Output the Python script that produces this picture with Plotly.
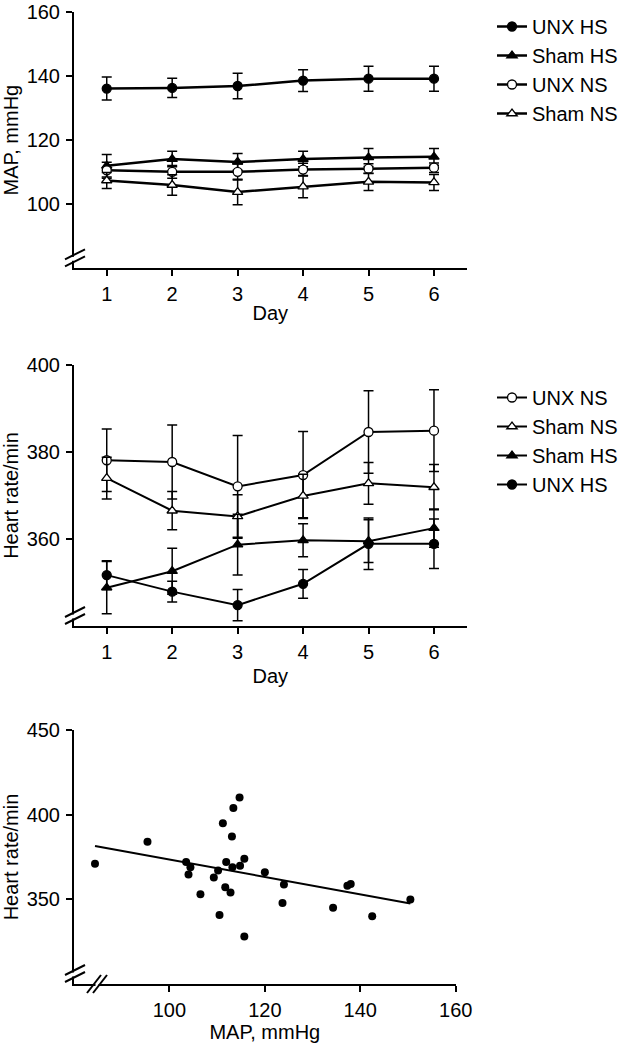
import numpy as np
import plotly.graph_objects as go

# ---------------- data ----------------
days = [1, 2, 3, 4, 5, 6]

# Panel A: MAP, mmHg
map_unx_hs = [136.1, 136.3, 136.9, 138.6, 139.2, 139.2]
map_unx_hs_err = [3.6, 3.0, 4.0, 3.4, 3.9, 3.9]
map_sham_hs = [112.0, 114.1, 113.2, 114.1, 114.6, 114.8]
map_sham_hs_err = [3.5, 2.4, 2.6, 2.4, 2.8, 2.6]
map_unx_ns = [110.6, 110.1, 110.1, 110.8, 111.1, 111.4]
map_unx_ns_err = [2.5, 2.0, 2.5, 2.0, 1.5, 1.5]
map_sham_ns = [107.4, 106.0, 103.8, 105.5, 107.0, 106.8]
map_sham_ns_err = [2.5, 3.2, 4.0, 3.5, 2.7, 2.5]

# Panel B: Heart rate/min
hr_unx_ns = [378.1, 377.7, 372.1, 374.7, 384.6, 384.9]
hr_unx_ns_err = [7.2, 8.5, 11.7, 10.0, 9.5, 9.4]
hr_sham_ns = [374.0, 366.5, 365.2, 369.9, 372.8, 371.9]
hr_sham_ns_err = [4.8, 4.4, 5.0, 5.0, 4.8, 5.2]
hr_sham_hs = [348.8, 352.6, 358.7, 359.7, 359.5, 362.5]
hr_sham_hs_err = [6.0, 5.3, 7.0, 3.8, 4.9, 4.4]
hr_unx_hs = [351.7, 347.9, 344.8, 349.7, 358.9, 358.9]
hr_unx_hs_err = [3.3, 2.4, 3.6, 3.3, 5.9, 5.7]

# Panel C: scatter MAP vs heart rate
sc_map = [84.4, 95.4, 103.5, 104.4, 104.0, 106.5, 109.3, 110.2, 110.5, 111.2,
          111.9, 113.2, 111.7, 112.8, 113.1, 113.4, 114.7, 114.8, 115.7, 115.7,
          120.0, 124.0, 123.7, 134.3, 137.3, 138.0, 142.5, 150.5]
sc_hr = [371.0, 384.0, 372.0, 369.0, 364.7, 353.0, 362.9, 367.0, 340.8, 395.0,
         372.0, 369.0, 357.2, 354.0, 387.1, 404.0, 410.1, 369.8, 374.0, 328.0,
         366.0, 358.8, 347.9, 345.0, 358.0, 359.0, 340.0, 349.9]

map_ticks = [100, 120, 140, 160]
hr_ticks = [360, 380, 400]
sc_yticks = [350, 400, 450]
sc_xticks = [100, 120, 140, 160]
day_ticks = [1, 2, 3, 4, 5, 6]

# ---------------- styling ----------------
W, H = 627, 1045
FONT = "Liberation Sans, Arial, sans-serif"


def fx(p):
    return p / W


def fy(p):
    return 1 - p / H


fig = go.Figure()

styles = {
    "UNX HS": dict(symbol="circle", color="black", size=9),
    "Sham HS": dict(symbol="triangle-up", color="black", size=9),
    "UNX NS": dict(symbol="circle", color="white", size=9),
    "Sham NS": dict(symbol="triangle-up", color="white", size=9),
}


def add_series(name, y, err, xa, ya, legend, lw):
    st = styles[name]
    fig.add_trace(go.Scatter(
        x=days, y=y, name=name, mode="lines+markers",
        xaxis=xa, yaxis=ya, legend=legend,
        line=dict(color="black", width=lw),
        marker=dict(symbol=st["symbol"], size=st["size"], color=st["color"],
                    line=dict(color="black", width=1.3)),
        error_y=dict(type="data", array=err, visible=True, color="black",
                     thickness=1.5, width=5),
        cliponaxis=False,
    ))


# Panel A
add_series("UNX HS", map_unx_hs, map_unx_hs_err, "x", "y", "legend", 2.5)
add_series("Sham HS", map_sham_hs, map_sham_hs_err, "x", "y", "legend", 2.5)
add_series("UNX NS", map_unx_ns, map_unx_ns_err, "x", "y", "legend", 2.5)
add_series("Sham NS", map_sham_ns, map_sham_ns_err, "x", "y", "legend", 2.5)

# Panel B
add_series("UNX NS", hr_unx_ns, hr_unx_ns_err, "x2", "y2", "legend2", 2)
add_series("Sham NS", hr_sham_ns, hr_sham_ns_err, "x2", "y2", "legend2", 2)
add_series("Sham HS", hr_sham_hs, hr_sham_hs_err, "x2", "y2", "legend2", 2)
add_series("UNX HS", hr_unx_hs, hr_unx_hs_err, "x2", "y2", "legend2", 2)

# Panel C
fig.add_trace(go.Scatter(
    x=sc_map, y=sc_hr, mode="markers", xaxis="x3", yaxis="y3", showlegend=False,
    marker=dict(size=8, color="black"), cliponaxis=False,
))
slope, intercept = np.polyfit(sc_map, sc_hr, 1)
fit_x = [min(sc_map), max(sc_map)]
fit_y = [slope * v + intercept for v in fit_x]
fig.add_trace(go.Scatter(
    x=fit_x, y=fit_y, mode="lines", xaxis="x3", yaxis="y3", showlegend=False,
    line=dict(color="black", width=2),
))

axis_common = dict(
    showline=True, linecolor="black", linewidth=2, ticks="outside",
    ticklen=6, tickwidth=1.8, tickcolor="black", showgrid=False,
    zeroline=False, automargin=False, ticklabeloverflow="allow",
    tickfont=dict(size=20, color="black", family=FONT),
    title_font=dict(size=20, color="black", family=FONT),
)
xcommon = dict(axis_common, ticklabelstandoff=1)
ycommon = dict(axis_common, ticklabelstandoff=2)

fig.update_layout(
    width=W, height=H,
    margin=dict(l=0, r=0, t=0, b=0, autoexpand=False),
    paper_bgcolor="white", plot_bgcolor="white",
    font=dict(family=FONT, size=20, color="black"),
    xaxis=dict(domain=[fx(74), fx(466.7)], anchor="y", range=[0.5, 6.5],
               tickvals=day_ticks, title=dict(text="Day", standoff=2),
               **xcommon),
    yaxis=dict(domain=[fy(268.3), fy(12)], anchor="x", range=[80, 160],
               tickvals=map_ticks, title=dict(text="MAP, mmHg", standoff=6),
               **ycommon),
    xaxis2=dict(domain=[fx(74), fx(466.7)], anchor="y2", range=[0.5, 6.5],
                tickvals=day_ticks, title=dict(text="Day", standoff=7),
                **xcommon),
    yaxis2=dict(domain=[fy(626), fy(365)], anchor="x2", range=[340, 400],
                tickvals=hr_ticks, title=dict(text="Heart rate/min", standoff=6),
                **ycommon),
    xaxis3=dict(domain=[fx(74), fx(455.7)], anchor="y3", range=[80, 160],
                tickvals=sc_xticks, title=dict(text="MAP, mmHg", standoff=4),
                **xcommon),
    yaxis3=dict(domain=[fy(984), fy(730)], anchor="x3", range=[300, 450],
                tickvals=sc_yticks, title=dict(text="Heart rate/min", standoff=6),
                **ycommon),
    legend=dict(x=fx(492), y=fy(7), xanchor="left", yanchor="top",
                font=dict(size=20, family=FONT, color="black"),
                bgcolor="rgba(0,0,0,0)", traceorder="normal"),
    legend2=dict(x=fx(492), y=fy(378), xanchor="left", yanchor="top",
                 font=dict(size=20, family=FONT, color="black"),
                 bgcolor="rgba(0,0,0,0)", traceorder="normal"),
)

shapes = []


def ybreak(xr, yr):
    base = dict(type="line", xref=xr + " domain", yref=yr + " domain",
                xsizemode="pixel", ysizemode="pixel", xanchor=0, yanchor=0,
                layer="above")
    shapes.append(dict(base, x0=0, x1=0, y0=7.5, y1=11.5,
                       line=dict(color="white", width=5)))
    shapes.append(dict(base, x0=-9, y0=2, x1=11, y1=12,
                       line=dict(color="black", width=2)))
    shapes.append(dict(base, x0=-9, y0=9, x1=11, y1=19,
                       line=dict(color="black", width=2)))


def xbreak(xr, yr, off):
    base = dict(type="line", xref=xr + " domain", yref=yr + " domain",
                xsizemode="pixel", ysizemode="pixel", xanchor=0, yanchor=0,
                layer="above")
    shapes.append(dict(base, x0=off - 1.5, x1=off + 1.5, y0=0, y1=0,
                       line=dict(color="white", width=5)))
    shapes.append(dict(base, x0=off - 10, y0=-9, x1=off + 4, y1=9,
                       line=dict(color="black", width=2)))
    shapes.append(dict(base, x0=off - 4, y0=-9, x1=off + 10, y1=9,
                       line=dict(color="black", width=2)))


ybreak("x", "y")
ybreak("x2", "y2")
ybreak("x3", "y3")
xbreak("x3", "y3", 23)
fig.update_layout(shapes=shapes)

fig.write_html(
    "out.html",
    config={"displayModeBar": False},
    post_script="document.body.style.margin='0';document.body.style.overflow='hidden';",
)
